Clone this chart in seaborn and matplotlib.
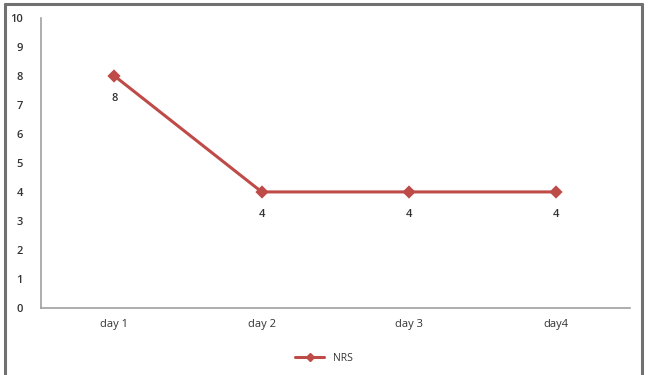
import matplotlib
matplotlib.use("Agg")
import matplotlib.pyplot as plt
import seaborn as sns
import pandas as pd
from matplotlib.lines import Line2D

days = ["day 1", "day 2", "day 3", "day4"]
nrs = [8, 4, 4, 4]
series_name = "NRS"

sns.set_style("white")
plt.rcParams['font.family'] = ['Open Sans', 'DejaVu Sans']

df = pd.DataFrame({"day": days, "value": nrs})
color = "#BE4B48"
txt = "#333333"

fig = plt.figure(figsize=(6.48, 3.75), dpi=100)
ax = fig.add_axes([0.063, 0.179, 0.909, 0.773])
sns.pointplot(data=df, x="day", y="value", ax=ax, color=color, markers="D",
              linewidth=2.2, markersize=5)
for i, v in enumerate(nrs):
    ax.annotate(str(v), (i, v), xytext=(0, -12), textcoords="offset points",
                ha="center", va="top", fontsize=8, color=txt, fontweight="semibold")

ax.set_xlim(-0.5, 3.5)
ax.set_ylim(0, 10)
ax.set_yticks(range(0, 11))
ax.set_xlabel("")
ax.set_ylabel("")
ax.tick_params(axis="both", length=0, labelsize=8, labelcolor=txt)
ax.tick_params(axis="y", pad=13)
ax.tick_params(axis="x", pad=8)
for lab in ax.get_yticklabels():
    lab.set_fontweight("semibold")
for s in ["top", "right"]:
    ax.spines[s].set_visible(False)
for s in ["left", "bottom"]:
    ax.spines[s].set_color("#A0A0A0")
    ax.spines[s].set_linewidth(1.2)

handle = Line2D([0], [0], color=color, marker="D", markersize=4, linewidth=2.2)
fig.legend([handle], [series_name], loc="center", bbox_to_anchor=(0.5, 0.045),
           frameon=False, fontsize=7.5, handlelength=2.8, labelcolor=txt)

# outer chart border
for xs, ys in [([0.007, 0.007], [0, 0.99]), ([0.007, 0.99], [0.99, 0.99]),
               ([0.99, 0.99], [0, 0.99])]:
    fig.add_artist(Line2D(xs, ys, color="#707070", linewidth=2.2,
                          transform=fig.transFigure))

fig.savefig("out.png", dpi=100)
